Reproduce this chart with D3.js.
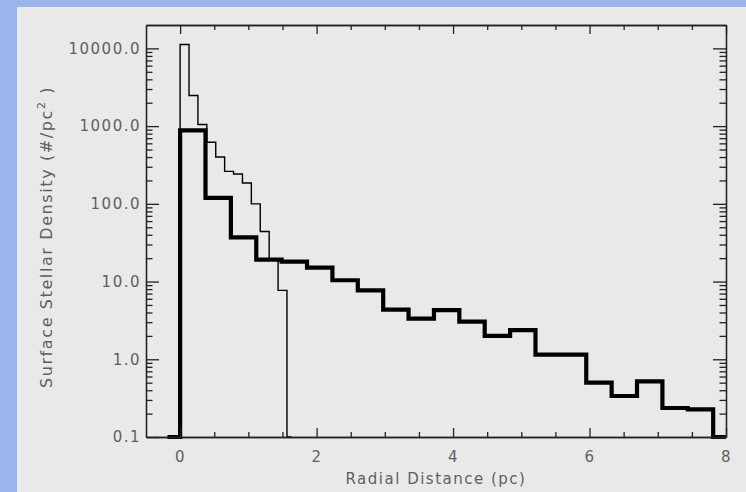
<!DOCTYPE html>
<html>
<head>
<meta charset="utf-8">
<script src="https://cdn.jsdelivr.net/npm/d3@7"></script>
<style>
  html, body { margin: 0; padding: 0; background: #9bb5ec; }
  svg { display: block; }
  text { font-family: "DejaVu Sans", sans-serif; fill: #5f5f5f; }
</style>
</head>
<body>
<svg id="chart" width="746" height="492"></svg>
<script>
// Radial surface density profiles (histogram mode, values at bin centres, pc)
// Fine-binned inner profile
const innerRadius = [-0.065, 0.065, 0.196, 0.326, 0.457, 0.587, 0.718, 0.848, 0.979, 1.109, 1.240, 1.370, 1.501, 1.631];
const innerDensity = [0.1, 11200, 2480, 1050, 620, 400, 262, 242, 185, 100, 44, 19.6, 7.7, 0.1];

// Coarse-binned full profile
const outerRadius = [-0.186, 0.186, 0.558, 0.930, 1.302, 1.674, 2.046, 2.418, 2.790, 3.162, 3.534,
                     3.906, 4.278, 4.650, 5.022, 5.394, 5.766, 6.138, 6.510, 6.882, 7.254, 7.626, 7.998];
const outerDensity = [0.1, 880, 119, 37, 19.2, 18.1, 15.1, 10.4, 7.7, 4.36, 3.34,
                      4.3, 3.05, 2.0, 2.37, 1.15, 1.15, 0.50, 0.337, 0.52, 0.236, 0.227, 0.1];

// Axis ticks and labels
const xMajorTicks = [0, 2, 4, 6, 8];
const xTickLabels = ["0", "2", "4", "6", "8"];
const yMajorTicks = [0.1, 1, 10, 100, 1000, 10000];
const yTickLabels = ["0.1", "1.0", "10.0", "100.0", "1000.0", "10000.0"];

const svg = d3.select("#chart");

// panel background
svg.append("rect")
  .attr("x", 17).attr("y", 7)
  .attr("width", 746 - 17).attr("height", 492 - 7)
  .attr("fill", "#e9e9e9");

const pLeft = 146, pRight = 726, pTop = 25, pBottom = 437;

const x = d3.scaleLinear().domain([-0.5, 8]).range([pLeft, pRight]);
const y = d3.scaleLog().domain([0.1, 20000]).range([pBottom, pTop]);

const xMinor = d3.range(0.5, 8, 0.5).filter(v => !xMajorTicks.includes(v));
const yMinor = [];
[0.1, 1, 10, 100, 1000].forEach(dec => {
  for (let m = 2; m <= 9; m++) yMinor.push(dec * m);
});

// data lines
svg.append("clipPath").attr("id", "plotclip")
  .append("rect").attr("x", pLeft - 20).attr("y", pTop)
  .attr("width", pRight - pLeft + 20).attr("height", pBottom - pTop + 3);

const stepPath = (xs, ys) => d3.line()
  .x((d, i) => x(xs[i]))
  .y((d, i) => y(ys[i]))
  .curve(d3.curveStep)(xs);

const plot = svg.append("g").attr("clip-path", "url(#plotclip)");

plot.append("path")
  .attr("d", stepPath(innerRadius, innerDensity))
  .attr("fill", "none")
  .attr("stroke", "#000")
  .attr("stroke-width", 1.4);

plot.append("path")
  .attr("d", stepPath(outerRadius, outerDensity))
  .attr("fill", "none")
  .attr("stroke", "#000")
  .attr("stroke-width", 4.2)
  .attr("stroke-linejoin", "miter");

// axes
function styleAxis(g) {
  g.selectAll(".domain").attr("stroke", "#222").attr("stroke-width", 1.3);
  g.selectAll(".tick line").attr("stroke", "#222").attr("stroke-width", 1.3);
  g.selectAll("text").attr("fill", "#5f5f5f").style("font-size", "15px")
    .style("letter-spacing", "1.5px")
    .style("font-family", "'DejaVu Sans', sans-serif");
}

// bottom
svg.append("g").attr("transform", `translate(0,${pBottom})`)
  .call(d3.axisBottom(x).tickValues(xMajorTicks).tickSizeInner(-9).tickSizeOuter(0)
    .tickPadding(14).tickFormat((d, i) => xTickLabels[i]))
  .call(styleAxis);
svg.append("g").attr("transform", `translate(0,${pBottom})`)
  .call(d3.axisBottom(x).tickValues(xMinor).tickSizeInner(-5).tickSizeOuter(0).tickFormat(""))
  .call(styleAxis);

// top
svg.append("g").attr("transform", `translate(0,${pTop})`)
  .call(d3.axisTop(x).tickValues(xMajorTicks).tickSizeInner(-9).tickSizeOuter(0).tickFormat(""))
  .call(styleAxis);
svg.append("g").attr("transform", `translate(0,${pTop})`)
  .call(d3.axisTop(x).tickValues(xMinor).tickSizeInner(-5).tickSizeOuter(0).tickFormat(""))
  .call(styleAxis);

// left
svg.append("g").attr("transform", `translate(${pLeft},0)`)
  .call(d3.axisLeft(y).tickValues(yMajorTicks).tickSizeInner(-13).tickSizeOuter(0)
    .tickPadding(5).tickFormat((d, i) => yTickLabels[i]))
  .call(styleAxis);
svg.append("g").attr("transform", `translate(${pLeft},0)`)
  .call(d3.axisLeft(y).tickValues(yMinor).tickSizeInner(-6.5).tickSizeOuter(0).tickFormat(""))
  .call(styleAxis);

// right
svg.append("g").attr("transform", `translate(${pRight},0)`)
  .call(d3.axisRight(y).tickValues(yMajorTicks).tickSizeInner(-13).tickSizeOuter(0).tickFormat(""))
  .call(styleAxis);
svg.append("g").attr("transform", `translate(${pRight},0)`)
  .call(d3.axisRight(y).tickValues(yMinor).tickSizeInner(-6.5).tickSizeOuter(0).tickFormat(""))
  .call(styleAxis);

// axis titles
svg.append("text")
  .attr("x", (pLeft + pRight) / 2).attr("y", 484)
  .attr("text-anchor", "middle")
  .style("font-size", "15px")
  .style("letter-spacing", "1.5px")
  .text("Radial Distance (pc)");

const yt = svg.append("text")
  .attr("transform", `translate(52,237) rotate(-90)`)
  .attr("text-anchor", "middle")
  .style("font-size", "16px")
  .style("letter-spacing", "1.6px");
yt.append("tspan").text("Surface Stellar Density (#/pc");
yt.append("tspan").attr("dy", -7).style("font-size", "11px").text("2");
yt.append("tspan").attr("dy", 7).text(" )");
</script>
</body>
</html>
